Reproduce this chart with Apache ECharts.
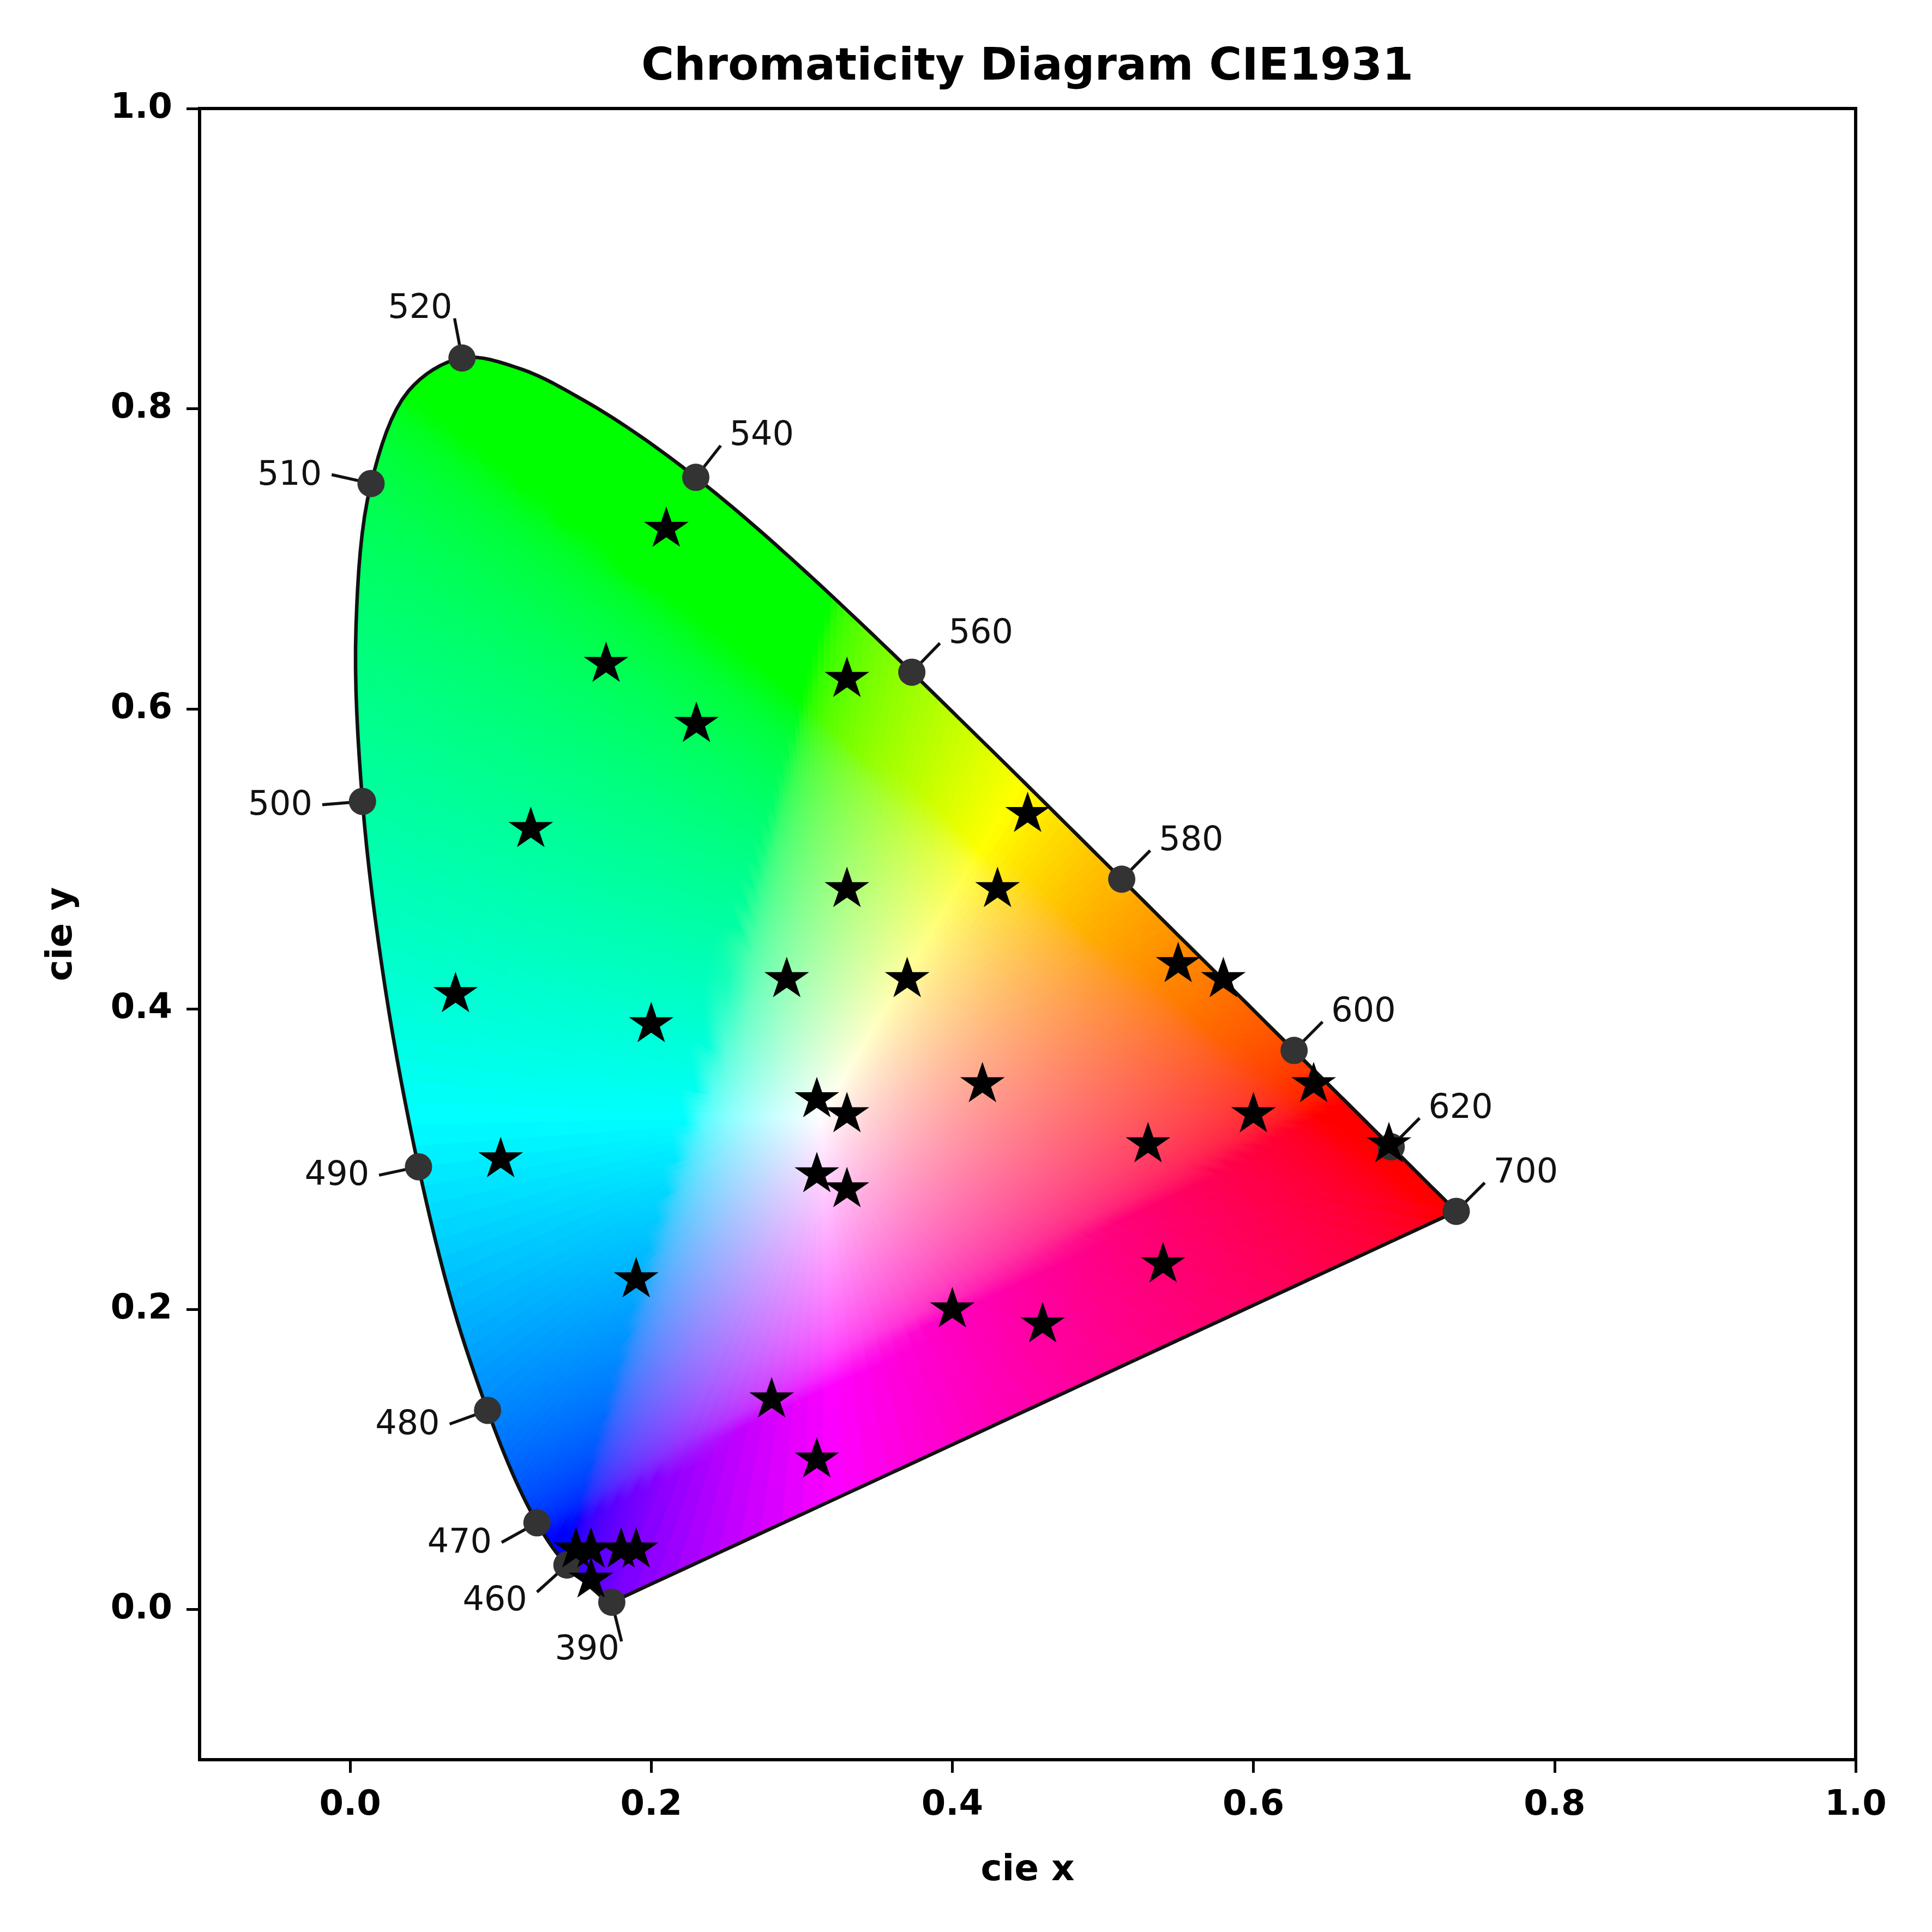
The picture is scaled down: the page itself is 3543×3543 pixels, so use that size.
<!DOCTYPE html>
<html>
<head>
<meta charset="utf-8">
<script src="https://cdn.jsdelivr.net/npm/echarts@6/dist/echarts.min.js"></script>
<style>html,body{margin:0;padding:0;background:#fff}#c{width:3543px;height:3543px}</style>
</head>
<body>
<div id="c"></div>
<script>
// ---- Data ----
const locusWavelengths = [380,385,390,395,400,405,410,415,420,425,430,435,440,445,450,455,460,465,470,475,480,485,490,495,500,505,510,515,520,525,530,535,540,545,550,555,560,565,570,575,580,585,590,595,600,605,610,615,620,625,630,635,640,645,650,655,660,665,670,675,680,685,690,695,700];
const locusX = [0.1741,0.1740,0.1738,0.1736,0.1733,0.1730,0.1726,0.1721,0.1714,0.1703,0.1689,0.1669,0.1644,0.1611,0.1566,0.1510,0.1440,0.1355,0.1241,0.1096,0.0913,0.0687,0.0454,0.0235,0.0082,0.0039,0.0139,0.0389,0.0743,0.1142,0.1547,0.1929,0.2296,0.2658,0.3016,0.3373,0.3731,0.4087,0.4441,0.4788,0.5125,0.5448,0.5752,0.6029,0.6270,0.6482,0.6658,0.6801,0.6915,0.7006,0.7079,0.7140,0.7190,0.7230,0.7260,0.7283,0.7300,0.7311,0.7320,0.7327,0.7334,0.7340,0.7344,0.7346,0.7347];
const locusY = [0.0050,0.0050,0.0049,0.0049,0.0048,0.0048,0.0048,0.0048,0.0051,0.0058,0.0069,0.0086,0.0109,0.0138,0.0177,0.0227,0.0297,0.0399,0.0578,0.0868,0.1327,0.2007,0.2950,0.4127,0.5384,0.6548,0.7502,0.8120,0.8338,0.8262,0.8059,0.7816,0.7543,0.7243,0.6923,0.6589,0.6245,0.5896,0.5547,0.5202,0.4866,0.4544,0.4242,0.3965,0.3725,0.3514,0.3340,0.3197,0.3083,0.2993,0.2920,0.2859,0.2809,0.2770,0.2740,0.2717,0.2700,0.2689,0.2680,0.2673,0.2666,0.2660,0.2656,0.2654,0.2653];
const labelWavelengths = [390,460,470,480,490,500,510,520,540,560,580,600,620,700];
const starX = [0.21,0.17,0.23,0.33,0.12,0.45,0.33,0.43,0.07,0.29,0.37,0.55,0.58,0.20,0.31,0.33,0.42,0.64,0.60,0.53,0.69,0.10,0.31,0.33,0.54,0.19,0.40,0.46,0.28,0.31,0.15,0.16,0.18,0.19,0.16];
const starY = [0.72,0.63,0.59,0.62,0.52,0.53,0.48,0.48,0.41,0.42,0.42,0.43,0.42,0.39,0.34,0.33,0.35,0.35,0.33,0.31,0.31,0.30,0.29,0.28,0.23,0.22,0.20,0.19,0.14,0.10,0.04,0.04,0.04,0.04,0.02];
const xTicks = [0.0,0.2,0.4,0.6,0.8,1.0];
const yTicks = [0.0,0.2,0.4,0.6,0.8,1.0];
const whitePoint = [0.3127,0.3290];

// ---- Helpers (styling / geometry) ----
function xyToRGB(x, y) {
  const X = x / y, Y = 1, Z = (1 - x - y) / y;
  let r = 3.2406*X - 1.5372*Y - 0.4986*Z;
  let g = -0.9689*X + 1.8758*Y + 0.0415*Z;
  let b = 0.0557*X - 0.2040*Y + 1.0570*Z;
  r = Math.max(r,0); g = Math.max(g,0); b = Math.max(b,0);
  const m = Math.max(r,g,b) || 1;
  const enc = v => { v = v/m; return v <= 0.0031308 ? 12.92*v : 1.055*Math.pow(v,1/2.4)-0.055; };
  return 'rgb(' + Math.round(enc(r)*255) + ',' + Math.round(enc(g)*255) + ',' + Math.round(enc(b)*255) + ')';
}
function crPoint(p0,p1,p2,p3,t) {
  const a = 0.5, eps = 1e-9;
  const d = (p, q) => Math.pow(Math.hypot(q[0]-p[0], q[1]-p[1]) + eps, a);
  const t0 = 0, t1 = t0 + d(p0,p1), t2 = t1 + d(p1,p2), t3 = t2 + d(p2,p3);
  const u = t1 + t*(t2-t1);
  const lerp = (P,Q,ta,tb) => [ (tb-u)/(tb-ta)*P[0] + (u-ta)/(tb-ta)*Q[0], (tb-u)/(tb-ta)*P[1] + (u-ta)/(tb-ta)*Q[1] ];
  const A1 = lerp(p0,p1,t0,t1), A2 = lerp(p1,p2,t1,t2), A3 = lerp(p2,p3,t2,t3);
  const B1 = lerp(A1,A2,t0,t2), B2 = lerp(A2,A3,t1,t3);
  return lerp(B1,B2,t1,t2);
}
// Smooth boundary geometry through the locus points (drawing only)
function boundary() {
  const P = locusX.map((x,i) => [x, locusY[i]]);
  const n = P.length, out = [];
  const SUB = 8;
  for (let i = 0; i < n-1; i++) {
    const p1 = P[i], p2 = P[i+1];
    const p0 = i > 0 ? P[i-1] : [2*p1[0]-p2[0], 2*p1[1]-p2[1]];
    const p3 = i < n-2 ? P[i+2] : [2*p2[0]-p1[0], 2*p2[1]-p1[1]];
    for (let k = 0; k < SUB; k++) out.push(k === 0 ? p1 : crPoint(p0,p1,p2,p3,k/SUB));
  }
  out.push(P[n-1]);
  const PL = 40;
  for (let k = 1; k < PL; k++) {
    const s = k/PL;
    out.push([P[n-1][0] + s*(P[0][0]-P[n-1][0]), P[n-1][1] + s*(P[0][1]-P[n-1][1])]);
  }
  return out;
}
const BPTS = boundary();

function starPath() {
  let s = '';
  for (let k = 0; k < 10; k++) {
    const ang = -Math.PI/2 + k*Math.PI/5;
    const r = (k % 2 === 0) ? 100 : 38.2;
    const x = (r*Math.cos(ang)).toFixed(2), y = (r*Math.sin(ang)).toFixed(2);
    s += (k === 0 ? 'M' : 'L') + x + ' ' + y + ' ';
  }
  return 'path://' + s + 'Z';
}

const chart = echarts.init(document.getElementById('c'), null, {renderer:'canvas', width:3543, height:3543});

const FONT = 'DejaVu Sans';

const fillSeries = {
  type: 'custom',
  z: 1,
  silent: true,
  clip: false,
  data: [[whitePoint[0], whitePoint[1]]],
  renderItem: function(params, api) {
    const W = api.coord(whitePoint);
    const pts = BPTS, N = pts.length;
    const children = [];
    const K = 24;
    for (let i = 0; i < N; i++) {
      const a = pts[i], b = pts[(i+1) % N];
      const A = api.coord(a), Bp = api.coord(b);
      const dx = Bp[0]-A[0], dy = Bp[1]-A[1];
      const dd = dx*dx + dy*dy;
      let F;
      if (dd < 1e-6) F = A; else {
        const t = ((W[0]-A[0])*dx + (W[1]-A[1])*dy) / dd;
        F = [A[0] + t*dx, A[1] + t*dy];
      }
      const M = [(a[0]+b[0])/2, (a[1]+b[1])/2];
      const stops = [];
      for (let k = 0; k <= K; k++) {
        const s = k/K;
        const s2 = Math.min(s, 0.9999);
        const px = whitePoint[0] + s2*(M[0]-whitePoint[0]);
        const py = whitePoint[1] + s2*(M[1]-whitePoint[1]);
        stops.push({offset: s, color: xyToRGB(px, py)});
      }
      const grad = new echarts.graphic.LinearGradient(W[0], W[1], F[0], F[1], stops, true);
      children.push({
        type: 'polygon',
        shape: {points: [W, A, Bp]},
        style: {fill: grad, stroke: grad, lineWidth: 1.6}
      });
    }
    const outline = pts.map(p => api.coord(p));
    children.push({
      type: 'polygon',
      shape: {points: outline},
      style: {fill: null, stroke: '#111', lineWidth: 6.5, lineJoin: 'round'}
    });
    return {type: 'group', children: children};
  }
};

const labelData = labelWavelengths.map(w => {
  const i = locusWavelengths.indexOf(w);
  return [locusX[i], locusY[i], w];
});

const tickSeries = {
  type: 'custom',
  z: 3,
  silent: true,
  clip: false,
  data: labelData,
  renderItem: function(params, api) {
    const w = labelWavelengths[params.dataIndex];
    const i = locusWavelengths.indexOf(w);
    const n = locusWavelengths.length;
    const ip = Math.max(i-1, 0), inx = Math.min(i+1, n-1);
    const P = api.coord([locusX[i], locusY[i]]);
    const Pp = api.coord([locusX[ip], locusY[ip]]);
    const Pn = api.coord([locusX[inx], locusY[inx]]);
    const W = api.coord(whitePoint);
    let tx = Pn[0]-Pp[0], ty = Pn[1]-Pp[1];
    let nx = -ty, ny = tx;
    const len = Math.hypot(nx, ny) || 1;
    nx /= len; ny /= len;
    if (nx*(P[0]-W[0]) + ny*(P[1]-W[1]) < 0) { nx = -nx; ny = -ny; }
    const L = 74;
    const E = [P[0] + L*nx, P[1] + L*ny];
    let align, tx0;
    if (nx > 0.3) { align = 'left'; tx0 = E[0] + 16; }
    else if (nx < -0.3) { align = 'right'; tx0 = E[0] - 18; }
    else { align = 'right'; tx0 = E[0] - 4; }
    const dataNy = -ny;
    let va, ty0;
    if (dataNy > 0.5) { va = 'bottom'; ty0 = E[1] + 14; }
    else if (dataNy < -0.5) { va = 'top'; ty0 = E[1] - 14; }
    else { va = 'middle'; ty0 = E[1] + 2; }
    return {
      type: 'group',
      children: [
        {type: 'line', shape: {x1: P[0], y1: P[1], x2: E[0], y2: E[1]}, style: {stroke: '#111', lineWidth: 5.5}},
        {type: 'text', x: tx0, y: ty0, style: {text: String(w), fontSize: 62, fontFamily: FONT, fill: '#111', align: align, verticalAlign: va}}
      ]
    };
  }
};

const dotSeries = {
  type: 'scatter',
  z: 4,
  silent: true,
  data: labelData.map(d => [d[0], d[1]]),
  symbol: 'circle',
  symbolSize: 50,
  itemStyle: {color: '#333', opacity: 1}
};

const starSeries = {
  type: 'scatter',
  z: 5,
  silent: true,
  data: starX.map((x,i) => [x, starY[i]]),
  symbol: starPath(),
  symbolSize: [82, 78],
  symbolKeepAspect: true,
  symbolOffset: [0, -4],
  itemStyle: {color: '#000', opacity: 1}
};

const axisFont = {fontSize: 64, fontWeight: 'bold', fontFamily: FONT, color: '#000'};

chart.setOption({
  animation: false,
  backgroundColor: '#fff',
  grid: {left: 366, right: 140, top: 199, bottom: 316, show: true, borderColor: '#000', borderWidth: 6, backgroundColor: 'transparent', outerBoundsMode: 'none', containLabel: false},
  graphic: [{
    type: 'text', x: 1884, y: 84, z: 10,
    style: {text: 'Chromaticity Diagram CIE1931', fontSize: 82, fontWeight: 'bold', fontFamily: FONT, fill: '#000', align: 'center', verticalAlign: 'top'}
  }],
  xAxis: {
    type: 'value', min: -0.1, max: 1.0,
    name: 'cie x', nameLocation: 'middle', nameGap: 171,
    nameTextStyle: {fontSize: 66, fontWeight: 'bold', fontFamily: FONT, color: '#000'},
    axisLine: {show: true, onZero: false, lineStyle: {color: '#000', width: 6}},
    axisTick: {show: true, customValues: xTicks, length: 24, inside: false, lineStyle: {color: '#000', width: 5}},
    axisLabel: Object.assign({customValues: xTicks, margin: 52, formatter: v => Number(v).toFixed(1)}, axisFont),
    splitLine: {show: false}
  },
  yAxis: {
    type: 'value', min: -0.1, max: 1.0,
    name: 'cie y', nameLocation: 'middle', nameGap: 219, nameRotate: 90,
    nameTextStyle: {fontSize: 66, fontWeight: 'bold', fontFamily: FONT, color: '#000'},
    axisLine: {show: true, onZero: false, lineStyle: {color: '#000', width: 6}},
    axisTick: {show: true, customValues: yTicks, length: 24, inside: false, lineStyle: {color: '#000', width: 5}},
    axisLabel: Object.assign({customValues: yTicks, margin: 50, formatter: v => Number(v).toFixed(1)}, axisFont),
    splitLine: {show: false}
  },
  series: [fillSeries, tickSeries, dotSeries, starSeries]
});
</script>
</body>
</html>
